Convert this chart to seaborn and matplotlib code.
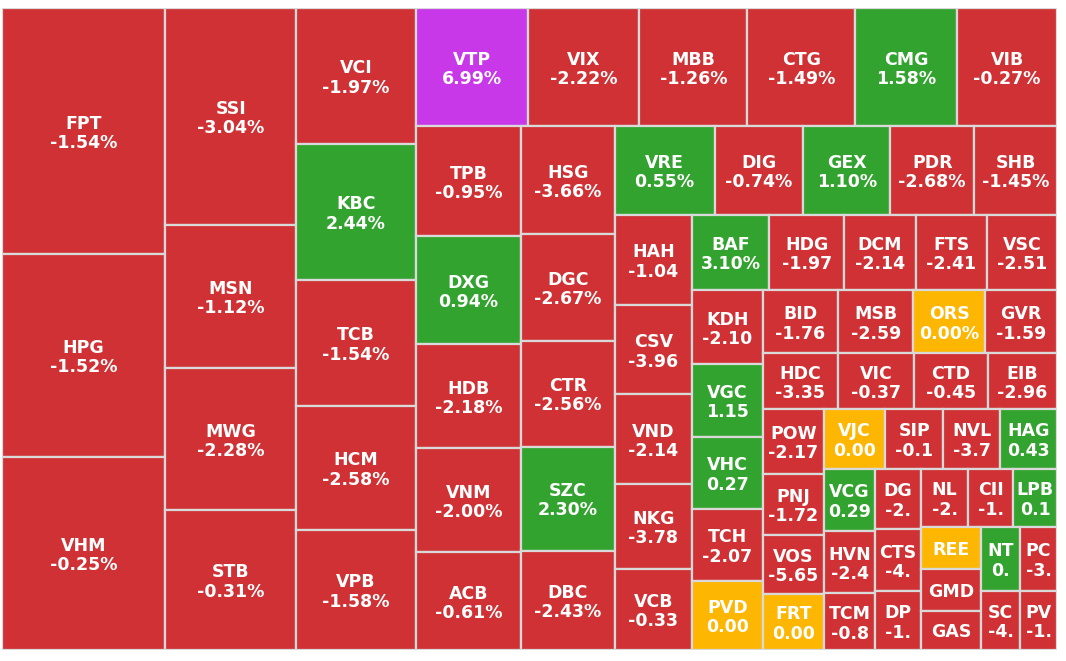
import matplotlib
matplotlib.use("Agg")
import matplotlib.pyplot as plt
from matplotlib.patches import Rectangle
import seaborn as sns
import pandas as pd

# tickers in layout order
tickers = ["FPT", "HPG", "VHM", "SSI", "MSN", "MWG", "STB", "VCI", "KBC", "TCB", "HCM", "VPB",
           "VTP", "VIX", "MBB", "CTG", "CMG", "VIB",
           "TPB", "DXG", "HDB", "VNM", "ACB",
           "HSG", "DGC", "CTR", "SZC", "DBC",
           "VRE", "DIG", "GEX", "PDR", "SHB",
           "HAH", "CSV", "VND", "NKG", "VCB",
           "BAF", "HDG", "DCM", "FTS", "VSC",
           "KDH", "VGC", "VHC", "TCH", "PVD",
           "BID", "MSB", "ORS", "GVR",
           "HDC", "VIC", "CTD", "EIB",
           "POW", "PNJ", "VOS", "FRT",
           "VJC", "SIP", "NVL", "HAG",
           "VCG", "HVN", "TCM",
           "DG", "CTS", "DP",
           "NL", "CII", "LPB",
           "REE", "GMD", "GAS",
           "NT", "PC", "SC", "PV"]

# trading value (relative box size, estimated)
trade_value = [39910, 32930, 31290, 28180, 18630, 18370, 18200, 16120, 16120, 14960, 14710, 14240,
               13100, 13100, 12640, 12640, 11930, 11700,
               11520, 11300, 10920, 10860, 10250,
               10040, 9860, 9830, 9640, 9210,
               8800, 7830, 7660, 7390, 7300,
               6930, 6880, 6880, 6550, 6210,
               5780, 5630, 5400, 5330, 5250,
               5130, 5090, 5060, 5020, 4850,
               4710, 4650, 4460, 4460,
               4230, 4220, 4140, 3850,
               3960, 3720, 3600, 3420,
               3600, 3420, 3360, 3340,
               3160, 3160, 2860,
               2760, 2850, 2670,
               2730, 2610, 2550,
               2520, 2460, 2340,
               2460, 2330, 2300, 2180]

# price change in percent (estimated where the label is cut)
change = [-1.54, -1.52, -0.25, -3.04, -1.12, -2.28, -0.31, -1.97, 2.44, -1.54, -2.58, -1.58,
          6.99, -2.22, -1.26, -1.49, 1.58, -0.27,
          -0.95, 0.94, -2.18, -2.00, -0.61,
          -3.66, -2.67, -2.56, 2.30, -2.43,
          0.55, -0.74, 1.10, -2.68, -1.45,
          -1.04, -3.96, -2.14, -3.78, -0.33,
          3.10, -1.97, -2.14, -2.41, -2.51,
          -2.10, 1.15, 0.27, -2.07, 0.00,
          -1.76, -2.59, 0.00, -1.59,
          -3.35, -0.37, -0.45, -2.96,
          -2.17, -1.72, -5.65, 0.00,
          0.00, -0.10, -3.70, 0.43,
          0.29, -2.40, -0.80,
          -2.00, -4.00, -1.00,
          -2.00, -1.00, 0.10,
          0.00, -1.00, -1.00,
          0.50, -3.00, -4.00, -1.00]

# text as shown in each box
shown = ["-1.54%", "-1.52%", "-0.25%", "-3.04%", "-1.12%", "-2.28%", "-0.31%", "-1.97%", "2.44%", "-1.54%", "-2.58%", "-1.58%",
         "6.99%", "-2.22%", "-1.26%", "-1.49%", "1.58%", "-0.27%",
         "-0.95%", "0.94%", "-2.18%", "-2.00%", "-0.61%",
         "-3.66%", "-2.67%", "-2.56%", "2.30%", "-2.43%",
         "0.55%", "-0.74%", "1.10%", "-2.68%", "-1.45%",
         "-1.04", "-3.96", "-2.14", "-3.78", "-0.33",
         "3.10%", "-1.97", "-2.14", "-2.41", "-2.51",
         "-2.10", "1.15", "0.27", "-2.07", "0.00",
         "-1.76", "-2.59", "0.00%", "-1.59",
         "-3.35", "-0.37", "-0.45", "-2.96",
         "-2.17", "-1.72", "-5.65", "0.00",
         "0.00", "-0.1", "-3.7", "0.43",
         "0.29", "-2.4", "-0.8",
         "-2.", "-4.", "-1.",
         "-2.", "-1.", "0.1",
         "", "", "",
         "0.", "-3.", "-4.", "-1."]

df = pd.DataFrame({"ticker": tickers, "value": trade_value, "change": change, "shown": shown})

W, H = 1055.0, 642.0


def squarify(values, x, y, w, h):
    total = sum(values)
    areas = [v * w * h / total for v in values]
    rects = []
    i, n = 0, len(areas)
    while i < n:
        vertical = w >= h
        side = h if vertical else w
        row = [areas[i]]
        j = i + 1
        while j < n:
            prev = row[-1]
            t_old = sum(row) / side
            l_old = prev / t_old
            r_old = max(t_old / l_old, l_old / t_old)
            t_new = (sum(row) + areas[j]) / side
            l_new = prev / t_new
            r_new = max(t_new / l_new, l_new / t_new)
            if r_new > r_old:
                break
            row.append(areas[j])
            j += 1
        thick = sum(row) / side
        pos = y if vertical else x
        for a in row:
            length = a / thick
            if vertical:
                rects.append((x, pos, thick, length))
            else:
                rects.append((pos, y, length, thick))
            pos += length
        if vertical:
            x += thick
            w -= thick
        else:
            y += thick
            h -= thick
        i = j
    return rects


def box_colour(c):
    if c >= 6.9:
        return "#c837e8"
    if c > 0:
        return "#33a32f"
    if c == 0:
        return "#fdb702"
    return "#d03134"


sns.set_theme(style="white")
plt.rcParams["font.family"] = ["DejaVu Sans"]

fig = plt.figure(figsize=(10.66, 6.61), dpi=100)
ax = fig.add_axes([2 / 1066, 11 / 661, 1055 / 1066, 642 / 661])
ax.set_xlim(0, W)
ax.set_ylim(H, 0)
ax.axis("off")

rects = squarify(df["value"].tolist(), 0, 0, W, H)
for (rx, ry, rw, rh), row in zip(rects, df.itertuples()):
    ax.add_patch(Rectangle((rx, ry), rw, rh, facecolor=box_colour(row.change),
                           edgecolor="#d9d9d9", linewidth=1.6))
    cx, cy = rx + rw / 2, ry + rh / 2
    if row.shown:
        ax.text(cx, cy - 2.5, row.ticker, ha="center", va="baseline", color="white",
                fontsize=12.5, fontweight="bold")
        ax.text(cx, cy + 16.8, row.shown, ha="center", va="baseline", color="white",
                fontsize=12.5, fontweight="bold")
    else:
        ax.text(cx, cy + 6.5, row.ticker, ha="center", va="baseline", color="white",
                fontsize=12.5, fontweight="bold")

fig.savefig("out.png", dpi=100, facecolor="white")
